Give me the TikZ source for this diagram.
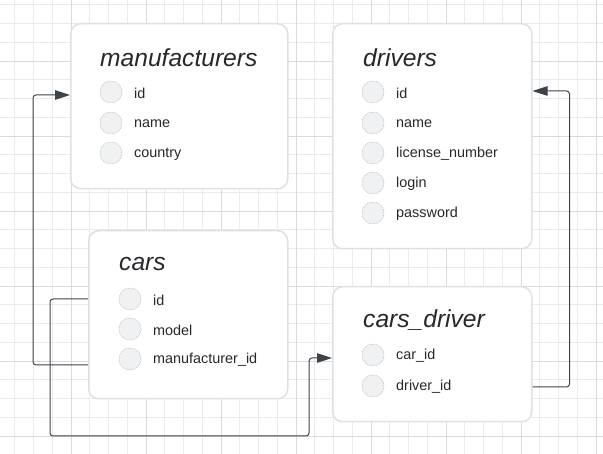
\documentclass[tikz,border=0pt]{standalone}
\usepackage{fontspec}
\setmainfont{Liberation Sans}
\usetikzlibrary{arrows.meta}
\definecolor{gridminor}{HTML}{EBEBEB}
\definecolor{gridmajor}{HTML}{DADADA}
\definecolor{boxborder}{HTML}{DDE1E6}
\definecolor{dotfill}{HTML}{F0F1F3}
\definecolor{dotline}{HTML}{BDBDBD}
\definecolor{ink}{HTML}{26282C}
\definecolor{wire}{HTML}{3D434C}
\begin{document}
\begin{tikzpicture}[x=1pt,y=-1pt,
  table/.style={draw=boxborder, line width=1.5pt, fill=white, rounded corners=10pt, inner sep=0pt, anchor=north west},
  ttl/.style={font=\itshape\fontsize{24.6}{28}\selectfont, text=ink, inner sep=0pt, anchor=west},
  dot/.style={circle, minimum size=22pt, inner sep=0pt, fill=dotfill, draw=dotline, dash pattern=on 1.5pt off 1pt, line width=0.5pt},
  fld/.style={font=\fontsize{14.4}{16}\selectfont, text=ink, inner sep=0pt, anchor=west},
  wire/.style={draw=wire, line width=1pt, rounded corners=3pt},
  tip/.style={-{Triangle[length=15pt,width=9.5pt]}}
]
\useasboundingbox (0,0) rectangle (603,454);
\fill[white] (0,0) rectangle (603,454);
% grid
\foreach \i in {0,...,32} {
  \pgfmathsetmacro{\gx}{14.75+\i*18.75}
  \draw[gridminor, line width=0.8pt] (\gx,0) -- (\gx,454);
}
\foreach \i in {0,...,24} {
  \pgfmathsetmacro{\gy}{4.75+\i*18.75}
  \draw[gridminor, line width=0.8pt] (0,\gy) -- (603,\gy);
}
\foreach \i in {0,...,7} {
  \pgfmathsetmacro{\gx}{71+\i*75}
  \draw[gridmajor, line width=0.8pt] (\gx,0) -- (\gx,454);
}
\foreach \i in {0,...,5} {
  \pgfmathsetmacro{\gy}{61+\i*75}
  \draw[gridmajor, line width=0.8pt] (0,\gy) -- (603,\gy);
}

% tables
\node[table, minimum width=217pt, minimum height=165pt] (man) at (70,23) {};
\node[table, minimum width=199pt, minimum height=225pt] (drv) at (332,23) {};
\node[table, minimum width=199pt, minimum height=168pt] (cars) at (88,230) {};
\node[table, minimum width=199pt, minimum height=135pt] (cd) at (332,286) {};

% manufacturers
\node[ttl] (mant) at (100,58) {manufacturers};
\node[dot] (mand1) at (111,92) {};
\node[fld] (manf1) at (134,93) {id};
\node[dot] (mand2) at (111,123) {};
\node[fld] (manf2) at (134,124) {name};
\node[dot] (mand3) at (111,153) {};
\node[fld] (manf3) at (134,154) {country};

% drivers
\node[ttl] (drvt) at (363,58) {drivers};
\node[dot] (drvd1) at (373,92) {};
\node[fld] (drvf1) at (396,93) {id};
\node[dot] (drvd2) at (373,123) {};
\node[fld] (drvf2) at (396,124) {name};
\node[dot] (drvd3) at (373,153) {};
\node[fld] (drvf3) at (396,154) {license\_number};
\node[dot] (drvd4) at (373,183) {};
\node[fld] (drvf4) at (396,184) {login};
\node[dot] (drvd5) at (373,213) {};
\node[fld] (drvf5) at (396,214) {password};

% cars
\node[ttl] (carst) at (119,264) {cars};
\node[dot] (carsd1) at (130,299) {};
\node[fld] (carsf1) at (153,300) {id};
\node[dot] (carsd2) at (130,329) {};
\node[fld] (carsf2) at (153,330) {model};
\node[dot] (carsd3) at (130,359) {};
\node[fld] (carsf3) at (153,360) {manufacturer\_id};

% cars_driver
\node[ttl] (cdt) at (363,320) {cars\_driver};
\node[dot] (cdd1) at (373,355) {};
\node[fld] (cdf1) at (396,356) {car\_id};
\node[dot] (cdd2) at (373,386) {};
\node[fld] (cdf2) at (396,387) {driver\_id};

% connectors
\draw[wire, tip] ([yshift=-135pt]cars.north west) -- ++(-55,0) |- ([yshift=-72pt]man.north west);
\draw[wire, tip] ([yshift=-69pt]cars.north west) -- ++(-38,0) -- ++(0,137) -| ([xshift=-23pt,yshift=-72pt]cd.north west) -- ([yshift=-72pt]cd.north west);
\draw[wire, tip] ([yshift=-101pt]cd.north east) -- ++(37,0) |- ([yshift=-68pt]drv.north east);
\end{tikzpicture}
\end{document}
